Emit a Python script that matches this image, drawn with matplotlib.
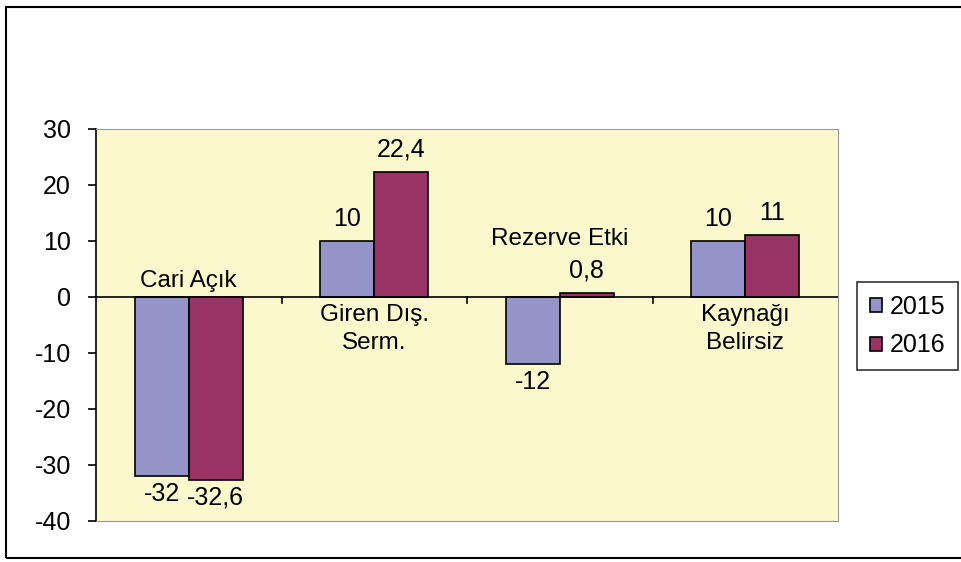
import matplotlib.pyplot as plt
import numpy as np

# Veriler
kategoriler = ["Cari Açık", "Giren Dış.\nSerm.", "Rezerve Etki", "Kaynağı\nBelirsiz"]
yil_2015 = [-32, 10, -12, 10]
yil_2016 = [-32.6, 22.4, 0.8, 11]
etiket_2015 = ["-32", "10", "-12", "10"]
etiket_2016 = ["-32,6", "22,4", "0,8", "11"]
# kategori etiketinin yüksekliği (eksen birimi) ve yönü
etiket_y = [0.9, -1.2, 8.4, -1.2]

plt.rcParams['font.family'] = ['Liberation Sans', 'DejaVu Sans']
plt.rcParams['axes.unicode_minus'] = False

fig = plt.figure(figsize=(9.61, 5.62), dpi=100)
ax = fig.add_axes([96 / 961, 1 - 521 / 562, (838 - 96) / 961, (521 - 129) / 562])
ax.set_facecolor('#FBF8CE')

x = np.arange(len(kategoriler))
w = 0.291
b1 = ax.bar(x - w / 2, yil_2015, w, color='#9494C8', edgecolor='black', linewidth=1.2, label='2015', zorder=3)
b2 = ax.bar(x + w / 2, yil_2016, w, color='#993366', edgecolor='black', linewidth=1.2, label='2016', zorder=3)

# değer etiketleri
for xi, v, t in zip(x - w / 2, yil_2015, etiket_2015):
    ax.text(xi, v + (1.8 if v > 0 else -1.1), t, ha='center', va='bottom' if v > 0 else 'top', fontsize=18)
for xi, v, t in zip(x + w / 2, yil_2016, etiket_2016):
    ax.text(xi, v + (1.8 if v > 0 else -1.1), t, ha='center', va='bottom' if v > 0 else 'top', fontsize=18)

# kategori etiketleri
for xi, k, y in zip(x, kategoriler, etiket_y):
    ax.text(xi, y, k, ha='center', va='bottom' if y > 0 else 'top', fontsize=17.5, linespacing=1.35)

ax.axhline(0, color='black', linewidth=1.2, zorder=4)
for sinir in [0.5, 1.5, 2.5]:
    ax.plot([sinir, sinir], [0, -1.1], color='black', linewidth=1.2, zorder=4)

ax.set_xlim(-0.5, 3.5)
ax.set_ylim(-40, 30)
ax.set_yticks(range(-40, 31, 10))
ax.set_xticks([])
ax.tick_params(axis='y', labelsize=18, length=6, width=1.2, direction='out', pad=12)
for s in ['top', 'right', 'bottom']:
    ax.spines[s].set_color('#999999')
ax.spines['left'].set_color('black')
ax.spines['left'].set_linewidth(1.2)

leg = fig.legend(handles=[b1, b2], loc='upper left', bbox_to_anchor=(857 / 961, 1 - 282 / 562),
                 fontsize=18, frameon=True, fancybox=False, edgecolor='black',
                 handlelength=0.5, handleheight=0.5, handletextpad=0.3, borderpad=0.5,
                 labelspacing=0.6, borderaxespad=0)
leg.get_frame().set_linewidth(1.2)

# dış çerçeve
fig.patches.append(plt.Rectangle((6 / 961, 1 - 558 / 562), 1.2, (558 - 7) / 562, transform=fig.transFigure,
                                 fill=False, edgecolor='black', linewidth=1.5))

fig.savefig('out.png', dpi=100)
